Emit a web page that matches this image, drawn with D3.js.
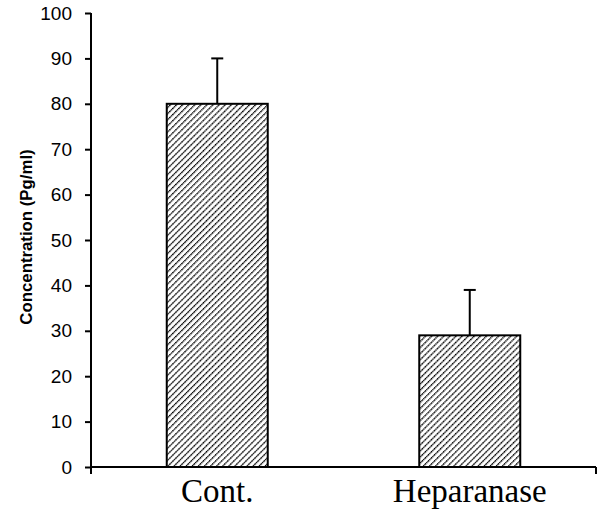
<!DOCTYPE html>
<html>
<head>
<meta charset="utf-8">
<script src="https://cdn.jsdelivr.net/npm/d3@7"></script>
<style>
  body { margin: 0; background: #fff; }
</style>
</head>
<body>
<svg id="chart"></svg>
<script>
// data
const categories = ["Cont.", "Heparanase"];
const means = [80, 29];
const errors = [10, 10];
const yTicks = [0, 10, 20, 30, 40, 50, 60, 70, 80, 90, 100];

const W = 603, H = 513;
const margin = { top: 13, right: 7, bottom: 46, left: 91 };
const width = W - margin.left - margin.right;
const height = H - margin.top - margin.bottom;

const svg = d3.select("#chart").attr("width", W).attr("height", H);

// hatch fill
const defs = svg.append("defs");
const pat = defs.append("pattern")
  .attr("id", "hatch")
  .attr("patternUnits", "userSpaceOnUse")
  .attr("width", 4.3).attr("height", 4.3)
  .attr("patternTransform", "rotate(45)");
pat.append("rect").attr("width", 4.3).attr("height", 4.3).attr("fill", "#fff");
pat.append("line")
  .attr("x1", 0).attr("y1", 0).attr("x2", 0).attr("y2", 4.3)
  .attr("stroke", "#000").attr("stroke-width", 2.6)
  .attr("stroke-dasharray", "1.7 0.45");

const g = svg.append("g").attr("transform", `translate(${margin.left},${margin.top})`);

const x = d3.scaleBand().domain(categories).range([0, width]).padding(0);
const y = d3.scaleLinear().domain([0, 100]).range([height, 0]);
const barW = x.bandwidth() * 0.4;

// bars
g.selectAll("rect.bar")
  .data(categories)
  .join("rect")
  .attr("class", "bar")
  .attr("x", d => x(d) + (x.bandwidth() - barW) / 2)
  .attr("y", (d, i) => y(means[i]))
  .attr("width", barW)
  .attr("height", (d, i) => y(0) - y(means[i]))
  .attr("fill", "url(#hatch)")
  .attr("stroke", "#000")
  .attr("stroke-width", 2);

// error bars (upper only)
const eb = g.selectAll("g.err").data(categories).join("g").attr("class", "err");
eb.append("line")
  .attr("x1", d => x(d) + x.bandwidth() / 2)
  .attr("x2", d => x(d) + x.bandwidth() / 2)
  .attr("y1", (d, i) => y(means[i]))
  .attr("y2", (d, i) => y(means[i] + errors[i]))
  .attr("stroke", "#000").attr("stroke-width", 2);
eb.append("line")
  .attr("x1", d => x(d) + x.bandwidth() / 2 - 6)
  .attr("x2", d => x(d) + x.bandwidth() / 2 + 6)
  .attr("y1", (d, i) => y(means[i] + errors[i]))
  .attr("y2", (d, i) => y(means[i] + errors[i]))
  .attr("stroke", "#000").attr("stroke-width", 2);

// y axis
const yAxis = g.append("g")
  .call(d3.axisLeft(y).tickValues(yTicks).tickSize(6).tickPadding(13));
yAxis.select(".domain").attr("stroke", "#000").attr("stroke-width", 2)
  .attr("d", `M0,${height + 7}V0`);
yAxis.selectAll(".tick line").attr("stroke-width", 2);
yAxis.selectAll(".tick text")
  .style("font-family", "Liberation Sans, Arial, sans-serif")
  .style("font-size", "19px")
  .attr("fill", "#000");

// x axis
const xAxis = g.append("g").attr("transform", `translate(0,${height})`);
xAxis.append("line")
  .attr("x1", 0).attr("x2", width).attr("y1", 0).attr("y2", 0)
  .attr("stroke", "#000").attr("stroke-width", 2);
xAxis.selectAll("line.sep")
  .data([0, width])
  .join("line")
  .attr("class", "sep")
  .attr("x1", d => d).attr("x2", d => d)
  .attr("y1", 0).attr("y2", 7)
  .attr("stroke", "#000").attr("stroke-width", 2);
xAxis.selectAll("text")
  .data(categories)
  .join("text")
  .attr("x", d => x(d) + x.bandwidth() / 2)
  .attr("y", 35)
  .attr("text-anchor", "middle")
  .style("font-family", "Liberation Serif, Times New Roman, serif")
  .style("font-size", "33px")
  .text(d => d);

// y label
svg.append("text")
  .attr("transform", `translate(32,${237}) rotate(-90)`)
  .attr("text-anchor", "middle")
  .style("font-family", "Liberation Sans, Arial, sans-serif")
  .style("font-size", "16.8px")
  .style("font-weight", "bold")
  .text("Concentration (Pg/ml)");
</script>
</body>
</html>
